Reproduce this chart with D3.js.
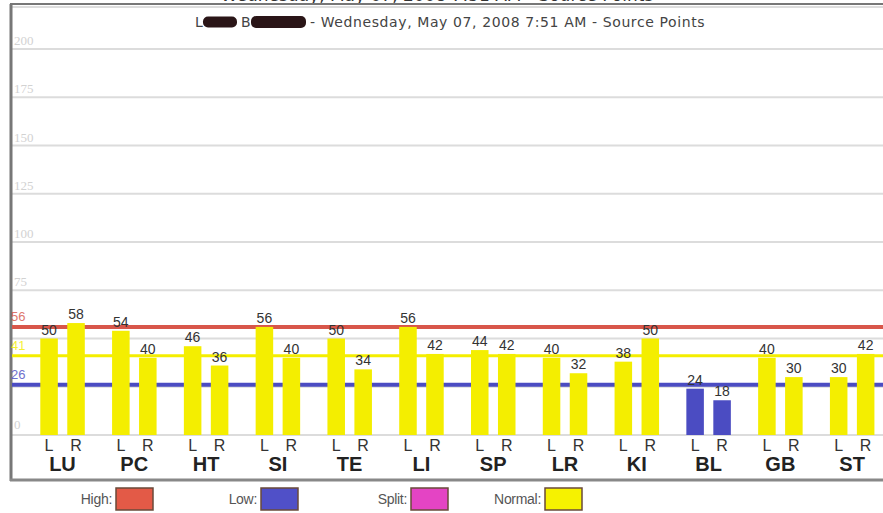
<!DOCTYPE html>
<html>
<head>
<meta charset="utf-8">
<script src="https://cdn.jsdelivr.net/npm/d3@7"></script>
<style>
  body { margin: 0; background: #fff; }
  svg { display: block; }
</style>
</head>
<body>
<svg id="svg1" width="883" height="513"></svg>
<script>
var svg = d3.select('#svg1');

// data
var groups = ['LU', 'PC', 'HT', 'SI', 'TE', 'LI', 'SP', 'LR', 'KI', 'BL', 'GB', 'ST'];
var sides = ['L', 'R'];
var leftValues  = [50, 54, 46, 56, 50, 56, 44, 40, 38, 24, 40, 30];
var rightValues = [58, 40, 36, 40, 34, 42, 42, 32, 50, 18, 30, 42];
var yTicks = [0, 25, 50, 75, 100, 125, 150, 175, 200];
var refNames  = ['High', 'Normal', 'Low'];
var refValues = [56, 41, 26];
var legendNames = ['High:', 'Low:', 'Split:', 'Normal:'];

var titleText = '- Wednesday, May 07, 2008 7:51 AM - Source Points';
var topText = 'Wednesday, May 07, 2008 7:51 AM - Source Points';

var colors = {High: '#d8564a', Low: '#4b4cc2', Split: '#e040c0', Normal: '#f4ee00'};
var legendColors = ['#e35a47', '#5050c8', '#e444c4', '#f6f200'];

var yScale = d3.scaleLinear().domain([0, 200]).range([435, 49]);
var xScale = d3.scaleBand().domain(groups).range([26.6, 888]).padding(0);
var xSide = d3.scaleBand().domain(sides).range([13.7, 58.2]).paddingInner(0.35).paddingOuter(0);

var rows = groups.map(function(g, i) {
  return {group: g, values: [leftValues[i], rightValues[i]]};
});

// cut-off heading at the very top
svg.append('text')
  .attr('x', 437).attr('y', 1)
  .attr('text-anchor', 'middle')
  .style('font-family', 'DejaVu Sans')
  .style('font-size', '17px')
  .style('fill', '#333')
  .text(topText);

// grid lines and faint tick labels
svg.append('g')
  .attr('class', 'grid')
  .selectAll('line')
  .data(yTicks)
  .enter().append('line')
  .attr('x1', 12).attr('x2', 883)
  .attr('y1', function(d) { return yScale(d); })
  .attr('y2', function(d) { return yScale(d); })
  .style('stroke', '#dcdcdc')
  .style('stroke-width', 2);

// the 25 and 50 labels sit under the threshold labels, so they are not shown
svg.append('g')
  .attr('class', 'y_labels')
  .selectAll('text')
  .data(yTicks.filter(function(t) { return t != 25 && t != 50; }))
  .enter().append('text')
  .attr('x', 14)
  .attr('y', function(d) { return d == 0 ? yScale(d) - 6 : yScale(d) - 4; })
  .style('font-family', 'Liberation Serif')
  .style('font-size', '13px')
  .style('fill', '#d2d2d2')
  .text(function(d) { return d; });

// frame
svg.append('line').attr('x1', 10).attr('x2', 883).attr('y1', 4).attr('y2', 4)
  .style('stroke', '#777').style('stroke-width', 2);
svg.append('line').attr('x1', 10).attr('x2', 883).attr('y1', 7).attr('y2', 7)
  .style('stroke', '#bbb').style('stroke-width', 1);
svg.append('line').attr('x1', 11).attr('x2', 11).attr('y1', 4).attr('y2', 481)
  .style('stroke', '#777').style('stroke-width', 3);
svg.append('line').attr('x1', 10).attr('x2', 883).attr('y1', 480).attr('y2', 480)
  .style('stroke', '#888').style('stroke-width', 3);

// title with redacted name
var title = svg.append('g').attr('class', 'title');
title.append('text')
  .attr('x', 195).attr('y', 27)
  .style('font-family', 'DejaVu Sans')
  .style('font-size', '14px')
  .style('fill', '#444')
  .text('L');
title.append('rect')
  .attr('x', 203).attr('y', 16.5).attr('width', 34).attr('height', 11).attr('rx', 5)
  .style('fill', '#2a1517');
title.append('text')
  .attr('x', 241).attr('y', 27)
  .style('font-family', 'DejaVu Sans')
  .style('font-size', '14px')
  .style('fill', '#444')
  .text('B');
title.append('rect')
  .attr('x', 251).attr('y', 16).attr('width', 55).attr('height', 12).attr('rx', 5)
  .style('fill', '#2a1517');
title.append('text')
  .attr('x', 310).attr('y', 27)
  .style('font-family', 'DejaVu Sans')
  .style('font-size', '14px')
  .style('letter-spacing', '0.6px')
  .style('fill', '#444')
  .text(titleText);

// reference lines
var refs = svg.append('g').attr('class', 'refs');
refValues.forEach(function(v, i) {
  var c = colors[refNames[i]];
  refs.append('line')
    .attr('x1', 12).attr('x2', 883)
    .attr('y1', yScale(v)).attr('y2', yScale(v))
    .style('stroke', c)
    .style('stroke-width', refNames[i] == 'Normal' ? 3 : 4);
  refs.append('text')
    .attr('x', 11).attr('y', yScale(v) - 6)
    .style('font-family', 'Liberation Sans')
    .style('font-size', '13px')
    .style('fill', c)
    .style('opacity', 0.8)
    .text(v);
});

// bars
var group = svg.selectAll('.bar_group')
  .data(rows)
  .enter().append('g')
  .attr('class', 'bar_group')
  .attr('transform', function(d) { return 'translate(' + xScale(d.group) + ',0)'; });

var bar = group.selectAll('.bar')
  .data(function(d) { return d.values.map(function(v, i) { return {side: sides[i], value: v}; }); })
  .enter().append('g')
  .attr('class', 'bar');

bar.append('rect')
  .attr('x', function(d) { return xSide(d.side); })
  .attr('y', function(d) { return yScale(d.value); })
  .attr('width', xSide.bandwidth())
  .attr('height', function(d) { return yScale(0) - yScale(d.value); })
  .style('fill', function(d) { return d.value < refValues[2] ? colors.Low : colors.Normal; });

bar.append('text')
  .attr('x', function(d) { return xSide(d.side) + xSide.bandwidth() / 2; })
  .attr('y', function(d) { return yScale(d.value) - 4; })
  .attr('text-anchor', 'middle')
  .style('font-family', 'Liberation Sans')
  .style('font-size', '14px')
  .style('fill', '#333')
  .text(function(d) { return d.value; });

bar.append('text')
  .attr('x', function(d) { return xSide(d.side) + xSide.bandwidth() / 2; })
  .attr('y', 451)
  .attr('text-anchor', 'middle')
  .style('font-family', 'Liberation Sans')
  .style('font-size', '16px')
  .style('fill', '#333')
  .text(function(d) { return d.side; });

group.append('text')
  .attr('x', xScale.bandwidth() / 2)
  .attr('y', 471)
  .attr('text-anchor', 'middle')
  .style('font-family', 'Liberation Sans')
  .style('font-size', '20px')
  .style('font-weight', 'bold')
  .style('fill', '#222')
  .text(function(d) { return d.group; });

// legend
var legendSwatchX = [116, 261, 411, 545];
var legend = svg.selectAll('.legend_item')
  .data(legendNames)
  .enter().append('g')
  .attr('class', 'legend_item')
  .attr('transform', function(d, i) { return 'translate(' + legendSwatchX[i] + ',488)'; });

legend.append('text')
  .attr('x', -4).attr('y', 16)
  .attr('text-anchor', 'end')
  .style('font-family', 'Liberation Sans')
  .style('font-size', '14px')
  .style('letter-spacing', '-0.3px')
  .style('fill', '#555')
  .text(function(d) { return d; });

legend.append('rect')
  .attr('x', 0).attr('y', 0)
  .attr('width', 37).attr('height', 22)
  .style('fill', function(d, i) { return legendColors[i]; })
  .style('stroke', '#6a4a3a')
  .style('stroke-width', 1.5);
</script>
</body>
</html>
